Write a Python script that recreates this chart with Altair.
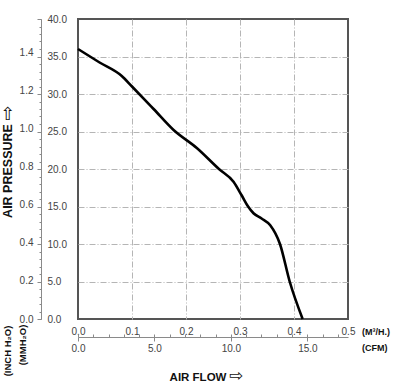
import altair as alt
import pandas as pd

# Fan curve data (airflow in m3, pressure in mmH2O)
FLOW = [0.000, 0.040, 0.081, 0.100, 0.140, 0.177, 0.220, 0.261, 0.288, 0.303,
        0.315, 0.325, 0.340, 0.356, 0.374, 0.392, 0.416]
MMH2O = [36.0, 34.2, 32.4, 31.0, 28.0, 25.2, 22.8, 20.0, 18.3, 16.5,
         15.0, 14.1, 13.4, 12.5, 10.0, 5.0, 0.0]

M3_TICKS = [0.0, 0.1, 0.2, 0.3, 0.4, 0.5]
CFM_MAJOR = [0.0, 5.0, 10.0, 15.0]
CFM_MINOR = list(range(0, 18))
MM_TICKS = [0.0, 5.0, 10.0, 15.0, 20.0, 25.0, 30.0, 35.0, 40.0]
MM_MINOR = list(range(0, 41))
INCH_TICKS = [0.0, 0.2, 0.4, 0.6, 0.8, 1.0, 1.2, 1.4]
GRID_X = [0.1, 0.2, 0.3, 0.4]
GRID_Y = [5.0, 10.0, 15.0, 20.0, 25.0, 30.0, 35.0]

M3_MAX = 0.5
MM_MAX = 40.0
CFM_MAX = M3_MAX / 0.028317
INCH_MAX = MM_MAX / 25.4

df = pd.DataFrame({"flow": FLOW, "mm": MMH2O})

FONT = "Liberation Sans"
LBL = "#444444"
AX = "#8a8a8a"
DASH = [6, 2, 1, 2]

base = alt.Chart(df)

curve = base.mark_line(color="black", strokeWidth=2.6, interpolate="monotone").encode(
    x=alt.X("flow:Q", scale=alt.Scale(domain=[0, M3_MAX], nice=False),
            axis=alt.Axis(orient="bottom", values=GRID_X, grid=True, gridDash=DASH,
                          gridColor="#b5b5b5", gridWidth=1, labels=False, ticks=False,
                          domain=False, title=None)),
    y=alt.Y("mm:Q", scale=alt.Scale(domain=[0, MM_MAX], nice=False),
            axis=alt.Axis(orient="left", values=GRID_Y, grid=True, gridDash=DASH,
                          gridColor="#b5b5b5", gridWidth=1, labels=False, ticks=False,
                          domain=False, title=None)),
)

hid2 = base.mark_point(opacity=0).encode(
    x=alt.X("flow:Q", scale=alt.Scale(domain=[0, M3_MAX], nice=False),
            axis=alt.Axis(orient="top", offset=-318, values=M3_TICKS, format=".1f",
                          ticks=False, domain=False, labelPadding=1, labelFontSize=10,
                          labelFont=FONT, labelColor=LBL, labelFlush=False,
                          labelOverlap=False, grid=False, title=None)),
    y=alt.Y("mm:Q", scale=alt.Scale(domain=[0, MM_MAX], nice=False),
            axis=alt.Axis(orient="left", offset=37, values=MM_TICKS, format=".1f",
                          tickSize=4, tickColor=AX, domain=True, domainColor=AX,
                          labelAlign="left", labelBaseline="middle", labelPadding=-10,
                          labelFontSize=10, labelFont=FONT, labelColor=LBL,
                          labelFlush=False, labelOverlap=False, grid=False, title=None)),
)

hid3 = base.mark_point(opacity=0).encode(
    x=alt.X("flow:Q", scale=alt.Scale(domain=[0, CFM_MAX], nice=False),
            axis=alt.Axis(orient="top", offset=-318, values=CFM_MINOR, labels=False,
                          tickSize=3, tickColor=AX, domain=True, domainColor=AX,
                          grid=False, title=None)),
    y=alt.Y("mm:Q", scale=alt.Scale(domain=[0, MM_MAX], nice=False),
            axis=alt.Axis(orient="left", offset=37, values=MM_MINOR, labels=False,
                          tickSize=2, tickColor=AX, domain=False, grid=False, title=None)),
)

hid4 = base.mark_point(opacity=0).encode(
    x=alt.X("flow:Q", scale=alt.Scale(domain=[0, CFM_MAX], nice=False),
            axis=alt.Axis(orient="bottom", offset=18, values=CFM_MAJOR, format=".1f",
                          tickSize=4, tickColor=AX, domain=False, labelPadding=2,
                          labelFontSize=10, labelFont=FONT, labelColor=LBL,
                          labelFlush=False, labelOverlap=False, grid=False, title=None)),
    y=alt.Y("mm:Q", scale=alt.Scale(domain=[0, INCH_MAX], nice=False),
            axis=alt.Axis(orient="left", offset=45, values=INCH_TICKS, format=".1f",
                          ticks=False, domain=False, labelAlign="right",
                          labelBaseline="middle", labelPadding=0, labelFontSize=10,
                          labelFont=FONT, labelColor=LBL, labelFlush=False,
                          labelOverlap=False, grid=False, title=None)),
)

one = pd.DataFrame({"k": [0]})


def label(text, x, y, size, angle=0, align="center", weight="bold", font=FONT):
    return alt.Chart(one).mark_text(
        text=text, font=font, fontWeight=weight, fontSize=size, color="#111111",
        angle=angle, align=align, baseline="middle"
    ).encode(x=alt.value(x), y=alt.value(y))


t_press = label("AIR PRESSURE", -70, 152, 12.5, angle=270)
a_press = label("\u21e7", -70, 96, 18, weight="normal", font="DejaVu Sans")
t_inch = label("(INCH H\u2082O)", -70, 332, 9.5, angle=270)
t_mm = label("(MMH\u2082O)", -55, 326, 9.5, angle=270)
t_flow = label("AIR FLOW", 120, 359, 11.5)
a_flow = label("\u21e8", 158, 357, 17, weight="normal", font="DejaVu Sans")
t_m3 = label("(M\u00b3/H.)", 284, 313, 9, align="left")
t_cfm = label("(CFM)", 284, 329, 9, align="left")

chart = alt.layer(curve, hid2, hid3, hid4, t_press, a_press, t_inch, t_mm,
                  t_flow, a_flow, t_m3, t_cfm).resolve_scale(
    x="independent", y="independent"
).properties(
    width=270, height=300,
    autosize=alt.AutoSizeParams(type="none"),
    padding={"left": 78, "top": 19, "right": 54, "bottom": 67},
    background="white",
).configure_view(stroke="#555555", strokeWidth=2)

chart.save("out.html", embed_options={"renderer": "svg", "actions": False})
